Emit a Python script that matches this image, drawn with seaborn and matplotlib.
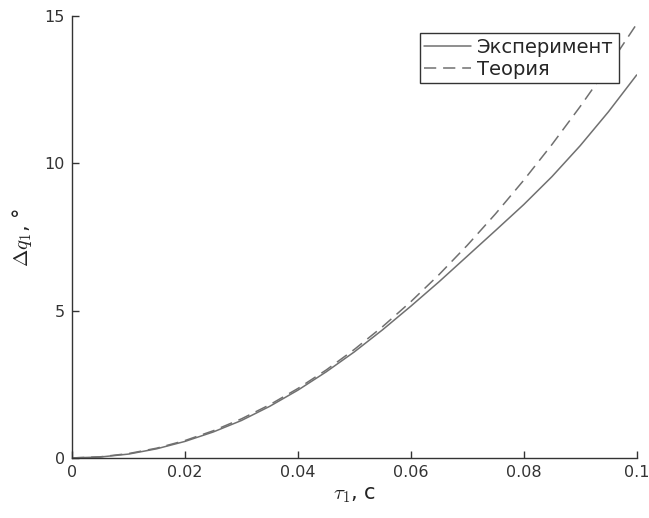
import matplotlib
matplotlib.use("Agg")
import matplotlib.pyplot as plt
import seaborn as sns
import pandas as pd

tau = [0.0, 0.005, 0.01, 0.015, 0.02, 0.025, 0.03, 0.035, 0.04, 0.045, 0.05,
       0.055, 0.06, 0.065, 0.07, 0.075, 0.08, 0.085, 0.09, 0.095, 0.1]
experiment = [0.0, 0.03, 0.13, 0.31, 0.56, 0.88, 1.27, 1.75, 2.3, 2.92, 3.6,
              4.35, 5.15, 5.98, 6.85, 7.72, 8.6, 9.55, 10.6, 11.75, 13.0]
theory = [0.0, 0.037, 0.147, 0.331, 0.589, 0.921, 1.326, 1.804, 2.357, 2.983, 3.683,
          4.456, 5.303, 6.223, 7.218, 8.286, 9.427, 10.64, 11.93, 13.29, 14.73]
series_names = ["Эксперимент", "Теория"]
x_ticks = [0, 0.02, 0.04, 0.06, 0.08, 0.1]
x_tick_labels = ["0", "0.02", "0.04", "0.06", "0.08", "0.1"]
y_ticks = [0, 5, 10, 15]

df = pd.DataFrame({
    "tau": tau * 2,
    "dq": experiment + theory,
    "series": [series_names[0]] * len(tau) + [series_names[1]] * len(tau),
})

sns.set_theme(style="white")
plt.rcParams["font.family"] = ["DejaVu Sans"]
plt.rcParams["mathtext.fontset"] = "cm"

fig = plt.figure(figsize=(6.49, 5.18), dpi=100)
ax = fig.add_axes([0.111, 0.116, 0.870, 0.853])

sns.lineplot(data=df, x="tau", y="dq", hue="series", style="series",
             palette=["#707070", "#707070"],
             dashes={series_names[0]: "", series_names[1]: (8, 4.5)},
             linewidth=1.1, ax=ax, legend=True)

ax.set_xlim(0, 0.1)
ax.set_ylim(0, 15)
ax.set_xticks(x_ticks)
ax.set_xticklabels(x_tick_labels)
ax.set_yticks(y_ticks)
ax.tick_params(direction="in", length=5, width=1, colors="#333333",
               labelsize=11.5, pad=5, bottom=True, left=True)
for s in ["top", "right"]:
    ax.spines[s].set_visible(False)
for s in ["left", "bottom"]:
    ax.spines[s].set_color("#333333")
    ax.spines[s].set_linewidth(1.0)

ax.set_xlabel(r"$\tau_1$, с", fontsize=15, color="#222222", labelpad=4)
ax.set_ylabel(r"$\Delta q_1$, °", fontsize=15, color="#222222", labelpad=8)

leg = ax.legend(loc="upper right", bbox_to_anchor=(0.968, 0.962), fontsize=14,
                frameon=True, fancybox=False, framealpha=1, edgecolor="#333333",
                handlelength=2.4, handletextpad=0.3, borderpad=0.25,
                labelspacing=0.15, borderaxespad=0)
leg.get_frame().set_linewidth(1.0)

fig.savefig("out.png", dpi=100)
